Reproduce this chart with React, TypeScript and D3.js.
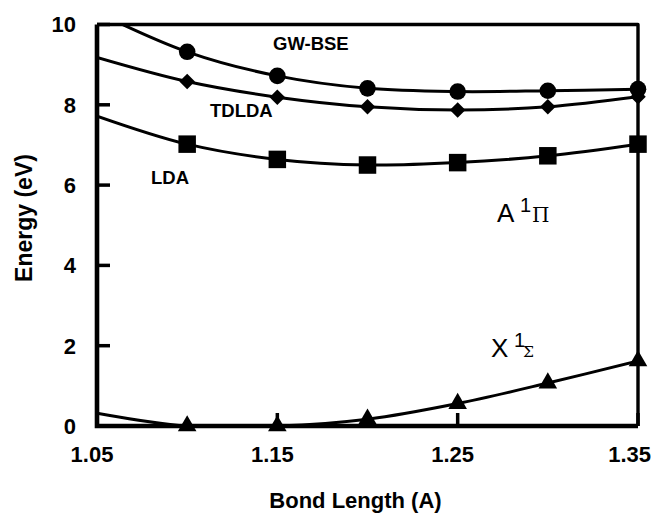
import React, { useRef, useEffect } from "react";
import * as d3 from "d3";

// bond lengths where the points were computed
const bondLengths = [1.1, 1.15, 1.2, 1.25, 1.3, 1.35];
const gwbse = [9.32, 8.72, 8.41, 8.33, 8.35, 8.39];
const tdlda = [8.58, 8.19, 7.95, 7.87, 7.95, 8.2];
const lda = [7.02, 6.64, 6.5, 6.56, 6.73, 7.02];
const ground = [0.0, 0.0, 0.17, 0.56, 1.07, 1.62];

// fitted curves start at the left edge of the plot
const fitStart = 1.05;
const gwbseStart = 10.3;
const tdldaStart = 9.18;
const ldaStart = 7.72;
const groundStart = 0.32;

const xTicks = [1.05, 1.15, 1.25, 1.35];
const yTicks = [0, 2, 4, 6, 8, 10];

const App = () => {
  const ref = useRef(null);

  useEffect(() => {
    const svg = d3.select(ref.current);
    svg.selectAll("*").remove();

    const left = 97,
      right = 638,
      top = 24.5,
      bottom = 426;

    const x = d3.scaleLinear().domain([1.05, 1.35]).range([left, right]);
    const y = d3.scaleLinear().domain([0, 10]).range([bottom, top]);

    const font = "'Liberation Sans', Arial, Helvetica, sans-serif";

    svg
      .append("defs")
      .append("clipPath")
      .attr("id", "plotclip")
      .append("rect")
      .attr("x", left)
      .attr("y", top)
      .attr("width", right - left)
      .attr("height", bottom - top);

    const line = d3
      .line()
      .x((d) => x(d[0]))
      .y((d) => y(d[1]))
      .curve(d3.curveCatmullRom.alpha(0.5));

    const series = [
      { start: gwbseStart, vals: gwbse, marker: "circle" },
      { start: tdldaStart, vals: tdlda, marker: "diamond" },
      { start: ldaStart, vals: lda, marker: "square" },
      { start: groundStart, vals: ground, marker: "triangle" },
    ];

    // fit curves
    const curves = svg.append("g").attr("clip-path", "url(#plotclip)");
    series.forEach((s) => {
      const pts = [[fitStart, s.start]].concat(
        bondLengths.map((b, i) => [b, s.vals[i]])
      );
      curves
        .append("path")
        .attr("d", line(pts))
        .attr("fill", "none")
        .attr("stroke", "#000")
        .attr("stroke-width", 3);
    });

    // frame
    svg
      .append("path")
      .attr("d", `M${left},${top} H${right} V${bottom}`)
      .attr("fill", "none")
      .attr("stroke", "#000")
      .attr("stroke-width", 3.4)
      .attr("stroke-linejoin", "round");
    svg
      .append("path")
      .attr("d", `M${left},${top} V${bottom} H${right}`)
      .attr("fill", "none")
      .attr("stroke", "#000")
      .attr("stroke-width", 4.6);

    // ticks (inward)
    yTicks.forEach((t) => {
      svg
        .append("line")
        .attr("x1", left)
        .attr("x2", left + 13)
        .attr("y1", y(t))
        .attr("y2", y(t))
        .attr("stroke", "#000")
        .attr("stroke-width", 3.5);
      svg
        .append("text")
        .attr("x", 76)
        .attr("y", y(t))
        .attr("dy", "0.36em")
        .attr("text-anchor", "end")
        .attr("font-family", font)
        .attr("font-weight", "bold")
        .attr("font-size", 22)
        .text(t);
    });
    xTicks.forEach((t, i) => {
      svg
        .append("line")
        .attr("x1", x(t))
        .attr("x2", x(t))
        .attr("y1", bottom)
        .attr("y2", bottom - 13)
        .attr("stroke", "#000")
        .attr("stroke-width", 3.5);
      const last = i === xTicks.length - 1;
      svg
        .append("text")
        .attr("x", last ? 651 : x(t) - 5)
        .attr("y", 462)
        .attr("text-anchor", last ? "end" : "middle")
        .attr("font-family", font)
        .attr("font-weight", "bold")
        .attr("font-size", 22)
        .text(t.toFixed(2));
    });

    // markers
    const sym = {
      circle: d3.symbol().type(d3.symbolCircle).size(Math.PI * 8.3 * 8.3),
      diamond: d3.symbol().type(d3.symbolSquare).size(11 * 11),
      square: d3.symbol().type(d3.symbolSquare).size(17.5 * 17.5),
      triangle: d3.symbol().type(d3.symbolTriangle).size(150),
    };
    series.forEach((s) => {
      svg
        .append("g")
        .selectAll("path")
        .data(bondLengths)
        .enter()
        .append("path")
        .attr("d", sym[s.marker]())
        .attr(
          "transform",
          (d, i) =>
            `translate(${x(d)},${y(s.vals[i])})` +
            (s.marker === "diamond" ? " rotate(45)" : "")
        )
        .attr("fill", "#000");
    });

    // curve labels
    const labels = [
      { text: "GW-BSE", x: 273, y: 50 },
      { text: "TDLDA", x: 210, y: 117 },
      { text: "LDA", x: 151, y: 184 },
    ];
    labels.forEach((l) => {
      svg
        .append("text")
        .attr("x", l.x)
        .attr("y", l.y)
        .attr("font-family", font)
        .attr("font-weight", "bold")
        .attr("font-size", 18.5)
        .text(l.text);
    });

    // state labels
    const state = (lx, ly, letter, greek, gsize, gx) => {
      const t = svg
        .append("text")
        .attr("x", lx)
        .attr("y", ly)
        .attr("font-family", font)
        .attr("font-size", 26);
      t.append("tspan").text(letter);
      t.append("tspan")
        .attr("x", lx + 23)
        .attr("y", ly - 10)
        .attr("font-size", 20)
        .text("1");
      t.append("tspan")
        .attr("x", gx)
        .attr("y", ly)
        .attr("font-family", "'DejaVu Serif', 'Liberation Serif', serif")
        .attr("font-size", gsize)
        .text(greek);
    };
    state(497, 222, "A", "Π", 20, 532);
    state(491, 357, "X", "Σ", 15.5, 523);

    // axis titles
    svg
      .append("text")
      .attr("x", (left + right) / 2 - 12)
      .attr("y", 508)
      .attr("text-anchor", "middle")
      .attr("font-family", font)
      .attr("font-weight", "bold")
      .attr("font-size", 22)
      .text("Bond Length (A)");
    svg
      .append("text")
      .attr("transform", "translate(32,218) rotate(-90)")
      .attr("text-anchor", "middle")
      .attr("font-family", font)
      .attr("font-weight", "bold")
      .attr("font-size", 23)
      .text("Energy (eV)");
  }, []);

  return (
    <svg
      ref={ref}
      width={655}
      height={513}
      style={{ position: "absolute", left: 0, top: 0, background: "#fff" }}
    />
  );
};

export default App;
